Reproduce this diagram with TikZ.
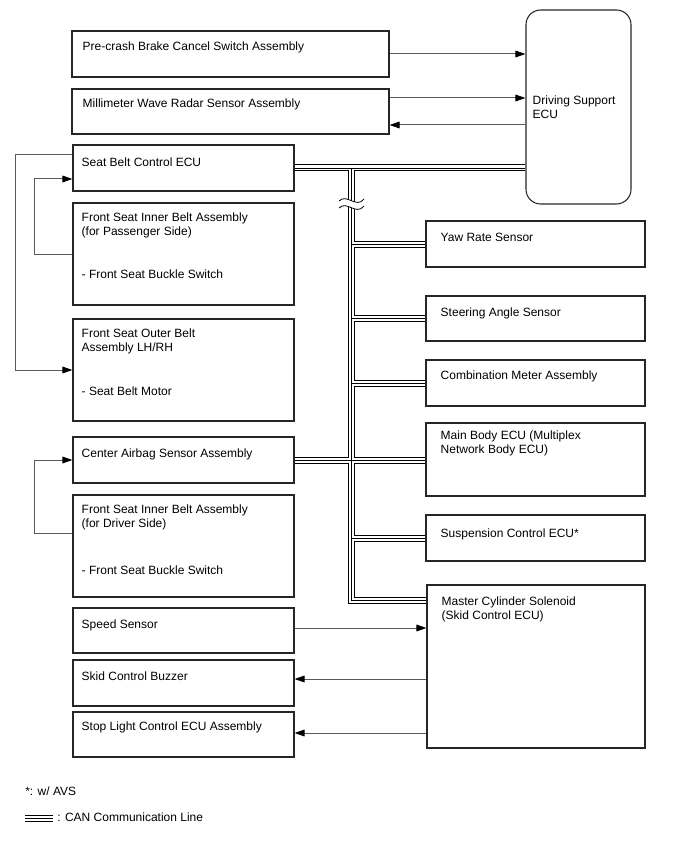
\documentclass[tikz,border=0pt]{standalone}
\usepackage{fontspec}
\setmainfont{Liberation Sans}
\usetikzlibrary{arrows.meta,fit}
\begin{document}
\begin{tikzpicture}[x=0.75pt, y=-0.75pt,
    every node/.style={font=\fontsize{9}{10.5}\selectfont},
    unit/.style={draw=black!85, line width=0.8pt, inner sep=0pt},
    lbl/.style={anchor=north west, inner sep=0pt, align=left},
    sig/.style={draw=black!65, line width=0.75pt, -{Triangle[length=7.5pt, width=5pt, color=black]}},
    can/.style={draw=black, line width=5.25pt, line join=miter,
        postaction={draw=white, line width=3.75pt},
        postaction={draw=black, line width=0.7pt}}]
    \useasboundingbox (0,0) rectangle (688,852);
    % left column
    \node[unit, fit={(72,31) (389,77)}] (pcb) {};
    \node[lbl] (pcbT) at ([shift={(11,11)}]pcb.north west) {Pre-crash Brake Cancel Switch Assembly};
    \node[unit, fit={(72,89) (389,134)}] (mwr) {};
    \node[lbl] (mwrT) at ([shift={(11,10)}]mwr.north west) {Millimeter Wave Radar Sensor Assembly};
    \node[unit, fit={(73,145) (294,191)}] (sbecu) {};
    \node[lbl] (sbecuT) at ([shift={(9,13)}]sbecu.north west) {Seat Belt Control ECU};
    \node[unit, fit={(73,203) (294,305)}] (fsip) {};
    \node[lbl] (fsipT) at ([shift={(9,10)}]fsip.north west) {Front Seat Inner Belt Assembly\\(for Passenger Side)};
    \node[lbl] (fsipS) at ([shift={(9,67)}]fsip.north west) {- Front Seat Buckle Switch};
    \node[unit, fit={(73,319) (294,421)}] (fsob) {};
    \node[lbl] (fsobT) at ([shift={(9,10)}]fsob.north west) {Front Seat Outer Belt\\Assembly LH/RH};
    \node[lbl] (fsobS) at ([shift={(9,68)}]fsob.north west) {- Seat Belt Motor};
    \node[unit, fit={(73,437) (294,483)}] (cas) {};
    \node[lbl] (casT) at ([shift={(9,12)}]cas.north west) {Center Airbag Sensor Assembly};
    \node[unit, fit={(73,495) (294,597)}] (fsid) {};
    \node[lbl] (fsidT) at ([shift={(9,10)}]fsid.north west) {Front Seat Inner Belt Assembly\\(for Driver Side)};
    \node[lbl] (fsidS) at ([shift={(9,71)}]fsid.north west) {- Front Seat Buckle Switch};
    \node[unit, fit={(73,608) (294,653)}] (speed) {};
    \node[lbl] (speedT) at ([shift={(9,12)}]speed.north west) {Speed Sensor};
    \node[unit, fit={(73,660) (294,706)}] (buzz) {};
    \node[lbl] (buzzT) at ([shift={(9,12)}]buzz.north west) {Skid Control Buzzer};
    \node[unit, fit={(73,712) (294,757)}] (stop) {};
    \node[lbl] (stopT) at ([shift={(9,10)}]stop.north west) {Stop Light Control ECU Assembly};
    % right column
    \node[unit, rounded corners=11pt, fit={(526,10) (631,204)}] (dsecu) {};
    \node[anchor=west, inner sep=0pt, align=left] (dsecuT) at ([shift={(7,0)}]dsecu.west) {Driving Support\\ECU};
    \node[unit, fit={(426,221) (645,267)}] (yaw) {};
    \node[lbl] (yawT) at ([shift={(15,12)}]yaw.north west) {Yaw Rate Sensor};
    \node[unit, fit={(426,296) (645,341)}] (steer) {};
    \node[lbl] (steerT) at ([shift={(15,12)}]steer.north west) {Steering Angle Sensor};
    \node[unit, fit={(426,360) (645,406)}] (combo) {};
    \node[lbl] (comboT) at ([shift={(15,11)}]combo.north west) {Combination Meter Assembly};
    \node[unit, fit={(426,423) (645,496)}] (mbecu) {};
    \node[lbl] (mbecuT) at ([shift={(15,8)}]mbecu.north west) {Main Body ECU (Multiplex\\Network Body ECU)};
    \node[unit, fit={(426,515) (645,561)}] (susp) {};
    \node[lbl] (suspT) at ([shift={(15,14)}]susp.north west) {Suspension Control ECU*};
    \node[unit, fit={(427,585) (645,748)}] (mcs) {};
    \node[lbl] (mcsT) at ([shift={(15,12)}]mcs.north west) {Master Cylinder Solenoid\\(Skid Control ECU)};
    % CAN bus
    \coordinate (tap) at (351,168);
    \draw[can] (sbecu.east) -- (sbecu.east -| dsecu.west)
        (tap) |- ([shift={(0,16)}]mcs.north west)
        (tap |- yaw.west) -- (yaw.west)
        (tap |- steer.west) -- (steer.west)
        (tap |- combo.west) -- (combo.west)
        (cas.east) -- (cas.east -| mbecu.west)
        (tap |- susp.west) -- (susp.west);
    % break mark
    \fill[white] (339,201) .. controls (347,193) and (356,209) .. (364,199)
        -- (364,206) .. controls (356,216) and (347,200) .. (339,208) -- cycle;
    \draw[line width=0.6pt] (339,201) .. controls (347,193) and (356,209) .. (364,199);
    \draw[line width=0.6pt] (339,208) .. controls (347,200) and (356,216) .. (364,206);
    % signal lines
    \draw[sig] (pcb.east) -- (pcb.east -| dsecu.west);
    \coordinate (mwrA) at ([shift={(0,-13.5)}]mwr.east);
    \coordinate (mwrB) at ([shift={(0,13.5)}]mwr.east);
    \draw[sig] (mwrA) -- (mwrA -| dsecu.west);
    \draw[sig] (mwrB -| dsecu.west) -- (mwrB);
    \draw[sig] ([shift={(0,-13)}]sbecu.west) -- ++(-57,0) |- (fsob.west);
    \draw[sig] (fsip.west) -- ++(-38,0) |- ([shift={(0,11)}]sbecu.west);
    \draw[sig] ([shift={(0,-13)}]fsid.west) -- ++(-38,0) |- (cas.west);
    \coordinate (speedA) at ([shift={(0,-2.5)}]speed.east);
    \coordinate (buzzA) at ([shift={(0,-4)}]buzz.east);
    \coordinate (stopA) at ([shift={(0,-1.5)}]stop.east);
    \draw[sig] (speedA) -- (speedA -| mcs.west);
    \draw[sig] (buzzA -| mcs.west) -- (buzzA);
    \draw[sig] (stopA -| mcs.west) -- (stopA);
    % legend
    \node[anchor=west, inner sep=0pt] (avs) at (25,791) {*: w/ AVS};
    \coordinate (legA) at (25,818.5);
    \coordinate (legB) at (53,818.5);
    \draw[can] (legA) -- (legB);
    \node[anchor=west, inner sep=0pt] (canT) at (57,817) {: CAN Communication Line};
\end{tikzpicture}
\end{document}
